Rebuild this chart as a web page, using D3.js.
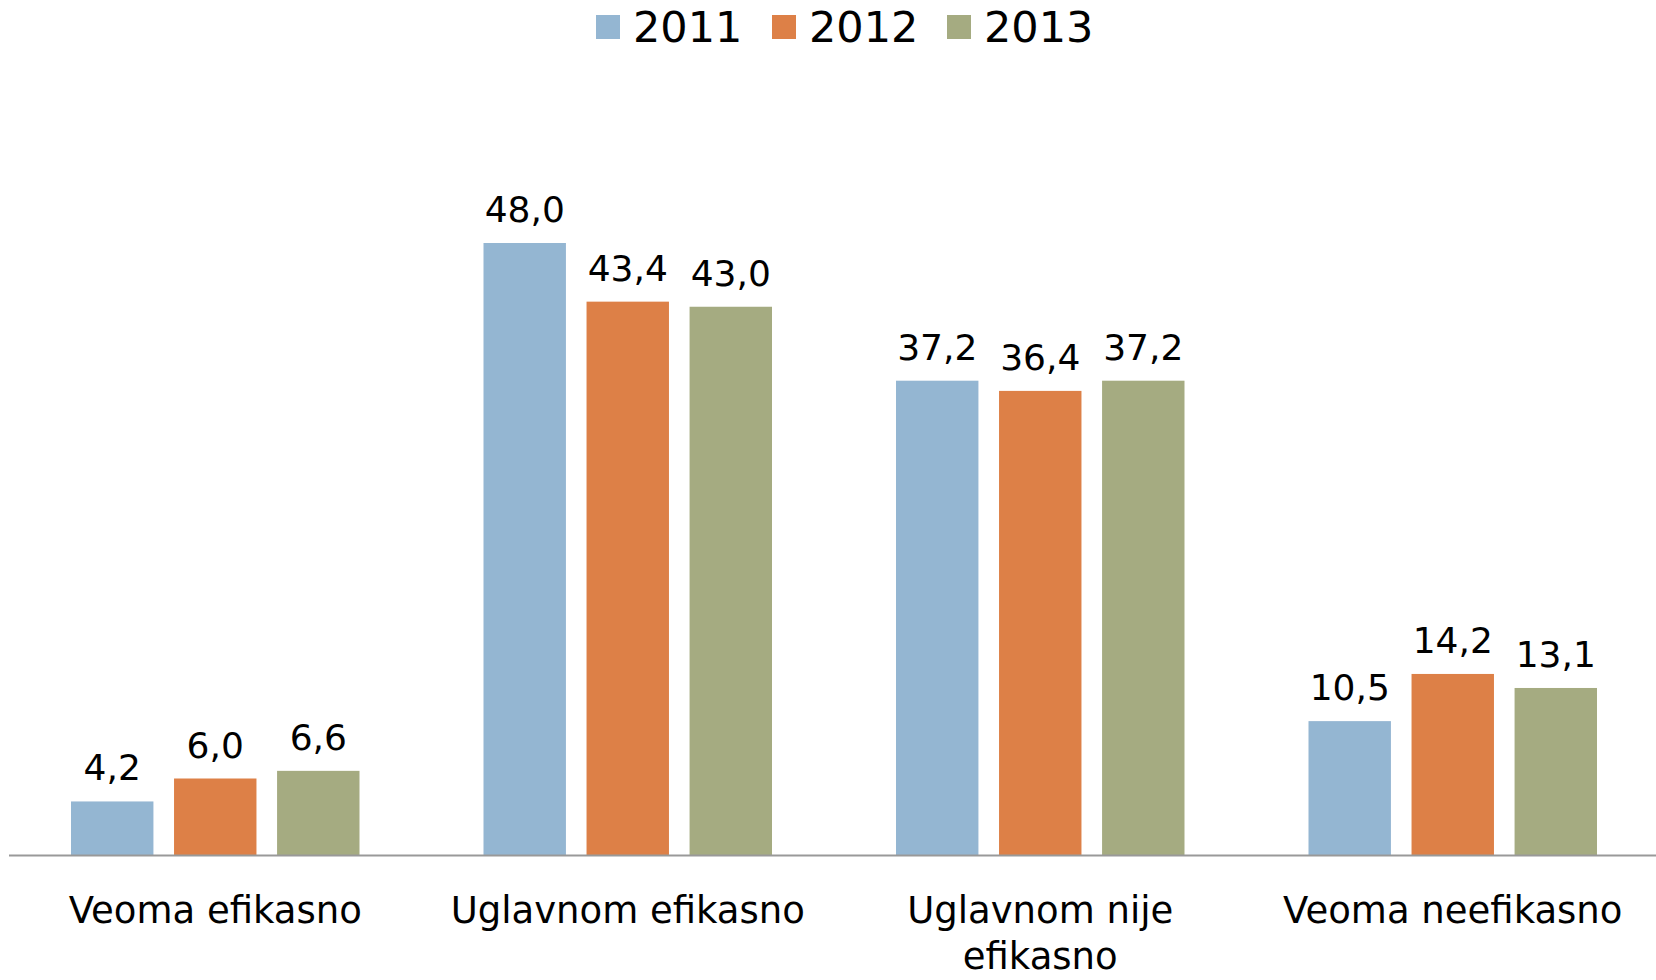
<!DOCTYPE html>
<html>
<head>
<meta charset="UTF-8">
<script src="https://d3js.org/d3.v7.min.js"></script>
<style>
  body { margin: 0; background: #fff; }
  svg text { font-family: "DejaVu Sans", sans-serif; fill: #000; }
</style>
</head>
<body>
<div id="chart"></div>
<script>
  // data
  const categories = ["Veoma efikasno", "Uglavnom efikasno", "Uglavnom nije efikasno", "Veoma neefikasno"];
  const categoryLines = [["Veoma efikasno"], ["Uglavnom efikasno"], ["Uglavnom nije", "efikasno"], ["Veoma neefikasno"]];
  const years = ["2011", "2012", "2013"];
  const values2011 = [4.2, 48.0, 37.2, 10.5];
  const values2012 = [6.0, 43.4, 36.4, 14.2];
  const values2013 = [6.6, 43.0, 37.2, 13.1];
  const colors = ["#94B6D2", "#DD8047", "#A5AB81"];

  const series = [values2011, values2012, values2013];

  const width = 1656, height = 980;
  const baseline = 855;

  const svg = d3.select("#chart").append("svg")
    .attr("width", width)
    .attr("height", height);

  const x0 = d3.scaleBand()
    .domain(categories)
    .range([9, 1659])
    .paddingInner(0)
    .paddingOuter(0);

  const x1 = d3.scaleBand()
    .domain(years)
    .range([62, x0.bandwidth() - 62])
    .paddingInner(0.2)
    .paddingOuter(0);

  const y = d3.scaleLinear()
    .domain([0, 48])
    .range([baseline, baseline - 612]);

  const groups = svg.selectAll(".group")
    .data(categories)
    .enter().append("g")
    .attr("class", "group")
    .attr("transform", d => `translate(${x0(d)},0)`);

  groups.selectAll("rect")
    .data((c, ci) => years.map((yr, si) => ({ yr: yr, v: series[si][ci], si: si })))
    .enter().append("rect")
    .attr("x", d => x1(d.yr))
    .attr("width", x1.bandwidth())
    .attr("y", d => y(d.v))
    .attr("height", d => baseline - y(d.v))
    .attr("fill", d => colors[d.si]);

  groups.selectAll(".val")
    .data((c, ci) => years.map((yr, si) => ({ yr: yr, v: series[si][ci] })))
    .enter().append("text")
    .attr("class", "val")
    .attr("x", d => x1(d.yr) + x1.bandwidth() / 2)
    .attr("y", d => y(d.v) - 21)
    .attr("text-anchor", "middle")
    .style("font-size", "36px")
    .text(d => d.v.toFixed(1).replace(".", ","));

  // axis line
  svg.append("line")
    .attr("x1", 9).attr("x2", width)
    .attr("y1", baseline + 0.5).attr("y2", baseline + 0.5)
    .attr("stroke", "#999")
    .attr("stroke-width", 2);

  // category labels
  groups.append("text")
    .attr("text-anchor", "middle")
    .style("font-size", "37px")
    .selectAll("tspan")
    .data((c, ci) => categoryLines[ci])
    .enter().append("tspan")
    .attr("x", x0.bandwidth() / 2)
    .attr("y", (d, i) => 923 + i * 46)
    .text(d => d);

  // legend
  const legendX = [596, 772, 947];
  const legend = svg.selectAll(".legend")
    .data(years)
    .enter().append("g")
    .attr("class", "legend")
    .attr("transform", (d, i) => `translate(${legendX[i]},0)`);

  legend.append("rect")
    .attr("x", 0).attr("y", 15)
    .attr("width", 24).attr("height", 24)
    .attr("fill", (d, i) => colors[i]);

  legend.append("text")
    .attr("x", 37).attr("y", 42)
    .style("font-size", "43px")
    .text(d => d);
</script>
</body>
</html>
